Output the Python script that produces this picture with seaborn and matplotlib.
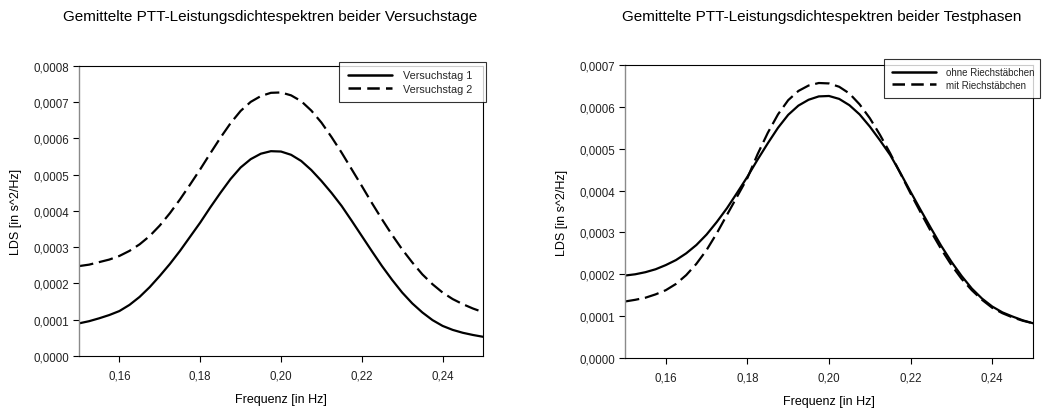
import matplotlib
matplotlib.use("Agg")
import matplotlib.pyplot as plt
from matplotlib.ticker import FuncFormatter, MultipleLocator, FixedLocator
from matplotlib.lines import Line2D
import pandas as pd
import seaborn as sns

# Frequency grid [Hz]
freq = [0.1500, 0.1525, 0.1550, 0.1575, 0.1600, 0.1625, 0.1650, 0.1675, 0.1700, 0.1725,
        0.1750, 0.1775, 0.1800, 0.1825, 0.1850, 0.1875, 0.1900, 0.1925, 0.1950, 0.1975,
        0.2000, 0.2025, 0.2050, 0.2075, 0.2100, 0.2125, 0.2150, 0.2175, 0.2200, 0.2225,
        0.2250, 0.2275, 0.2300, 0.2325, 0.2350, 0.2375, 0.2400, 0.2425, 0.2450, 0.2475,
        0.2500]

# Averaged PTT power spectral densities [s^2/Hz]
tag1 = [0.000090, 0.000096, 0.000104, 0.000113, 0.000124, 0.000141, 0.000163, 0.000190,
        0.000221, 0.000254, 0.000290, 0.000329, 0.000368, 0.000410, 0.000450, 0.000488,
        0.000520, 0.000543, 0.000558, 0.000565, 0.000564, 0.000555, 0.000538, 0.000513,
        0.000483, 0.000450, 0.000414, 0.000373, 0.000331, 0.000289, 0.000248, 0.000210,
        0.000175, 0.000145, 0.000120, 0.000099, 0.000083, 0.000072, 0.000064, 0.000058,
        0.000053]
tag2 = [0.000248, 0.000252, 0.000259, 0.000266, 0.000276, 0.000290, 0.000308, 0.000331,
        0.000360, 0.000394, 0.000432, 0.000473, 0.000515, 0.000559, 0.000602, 0.000642,
        0.000676, 0.000701, 0.000717, 0.000726, 0.000727, 0.000719, 0.000703, 0.000677,
        0.000644, 0.000604, 0.000561, 0.000515, 0.000469, 0.000422, 0.000377, 0.000334,
        0.000294, 0.000258, 0.000225, 0.000198, 0.000175, 0.000157, 0.000143, 0.000131,
        0.000121]
ohne = [0.000197, 0.000200, 0.000205, 0.000212, 0.000222, 0.000234, 0.000250, 0.000270,
        0.000295, 0.000325, 0.000358, 0.000395, 0.000433, 0.000474, 0.000513, 0.000550,
        0.000581, 0.000603, 0.000617, 0.000625, 0.000626, 0.000619, 0.000604, 0.000582,
        0.000553, 0.000520, 0.000485, 0.000442, 0.000397, 0.000353, 0.000310, 0.000268,
        0.000230, 0.000196, 0.000166, 0.000142, 0.000123, 0.000109, 0.000099, 0.000090,
        0.000083]
mit = [0.000135, 0.000139, 0.000144, 0.000152, 0.000162, 0.000177, 0.000198, 0.000225,
       0.000258, 0.000298, 0.000342, 0.000386, 0.000430, 0.000487, 0.000538, 0.000582,
       0.000616, 0.000638, 0.000651, 0.000657, 0.000656, 0.000648, 0.000632, 0.000606,
       0.000573, 0.000533, 0.000489, 0.000441, 0.000393, 0.000347, 0.000302, 0.000260,
       0.000222, 0.000189, 0.000162, 0.000139, 0.000120, 0.000107, 0.000097, 0.000089,
       0.000083]

labels_left = ["Versuchstag 1", "Versuchstag 2"]
labels_right = ["ohne Riechstäbchen", "mit Riechstäbchen"]
title_left = "Gemittelte PTT-Leistungsdichtespektren beider Versuchstage"
title_right = "Gemittelte PTT-Leistungsdichtespektren beider Testphasen"
xlabel = "Frequenz [in Hz]"
ylabel = "LDS [in s^2/Hz]"
xticks = [0.16, 0.18, 0.20, 0.22, 0.24]

sns.set_theme(style="white")
plt.rcParams["font.family"] = ["Liberation Sans", "DejaVu Sans"]

fig = plt.figure(figsize=(10.62, 4.10), dpi=100)
ax1 = fig.add_axes([0.0744, 0.1293, 0.3804, 0.7073])
ax2 = fig.add_axes([0.5885, 0.1244, 0.3842, 0.7146])

dash_pattern = (6.5, 2.6)


def long_df(a, b, la, lb):
    return pd.DataFrame({
        "f": freq + freq,
        "v": a + b,
        "serie": [la] * len(freq) + [lb] * len(freq),
    })


def draw(ax, df, labs, ymax, legend_box, legend_size):
    sns.lineplot(data=df, x="f", y="v", style="serie", style_order=labs,
                 dashes={labs[0]: "", labs[1]: dash_pattern},
                 color="black", linewidth=1.6, ax=ax, legend=False,
                 estimator=None, sort=True)
    ax.set_xlim(0.15, 0.25)
    ax.set_ylim(0, ymax)
    ax.xaxis.set_major_locator(FixedLocator(xticks))
    ax.yaxis.set_major_locator(MultipleLocator(0.0001))
    ax.xaxis.set_major_formatter(FuncFormatter(lambda v, p: f"{v:.2f}".replace(".", ",")))
    ax.yaxis.set_major_formatter(FuncFormatter(lambda v, p: f"{v:.4f}".replace(".", ",")))
    ax.tick_params(axis="both", which="major", direction="out", length=4,
                   width=0.8, color="black", labelsize=8.3, labelcolor="#222222",
                   pad=3, bottom=True, left=True, top=False, right=False)
    ax.tick_params(axis="x", pad=6)
    for side in ["top", "right", "bottom"]:
        ax.spines[side].set_color("black")
        ax.spines[side].set_linewidth(0.8)
    ax.spines["left"].set_color("#8a8a8a")
    ax.spines["left"].set_linewidth(1.0)
    ax.set_xlabel(xlabel, fontsize=9, color="black", labelpad=8)
    ax.set_ylabel(ylabel, fontsize=9, color="black", labelpad=8)
    handles = [Line2D([], [], color="black", lw=1.8),
               Line2D([], [], color="black", lw=1.8, dashes=(5, 2.5))]
    leg = ax.legend(handles, labs, loc="upper left",
                    bbox_to_anchor=legend_box, mode="expand",
                    fontsize=legend_size, frameon=True, fancybox=False,
                    borderaxespad=0, handlelength=44 / (legend_size * 100 / 72),
                    handletextpad=1.0, labelspacing=0.3, borderpad=0.8)
    leg.get_frame().set_edgecolor("black")
    leg.get_frame().set_linewidth(0.8)
    leg.set_zorder(5)


draw(ax1, long_df(tag1, tag2, *labels_left), labels_left, 0.0008,
     (0.644, 1.015, 0.363, 0.0), 7.8)
draw(ax2, long_df(ohne, mit, *labels_right), labels_right, 0.0007,
     (0.635, 1.020, 0.382, 0.0), 7.0)

fig.text(270 / 1062, 1 - 17 / 410, title_left, ha="center", va="center",
         fontsize=11, color="black")
fig.text(822 / 1062, 1 - 17 / 410, title_right, ha="center", va="center",
         fontsize=11, color="black")

fig.savefig("out.png", dpi=100)
